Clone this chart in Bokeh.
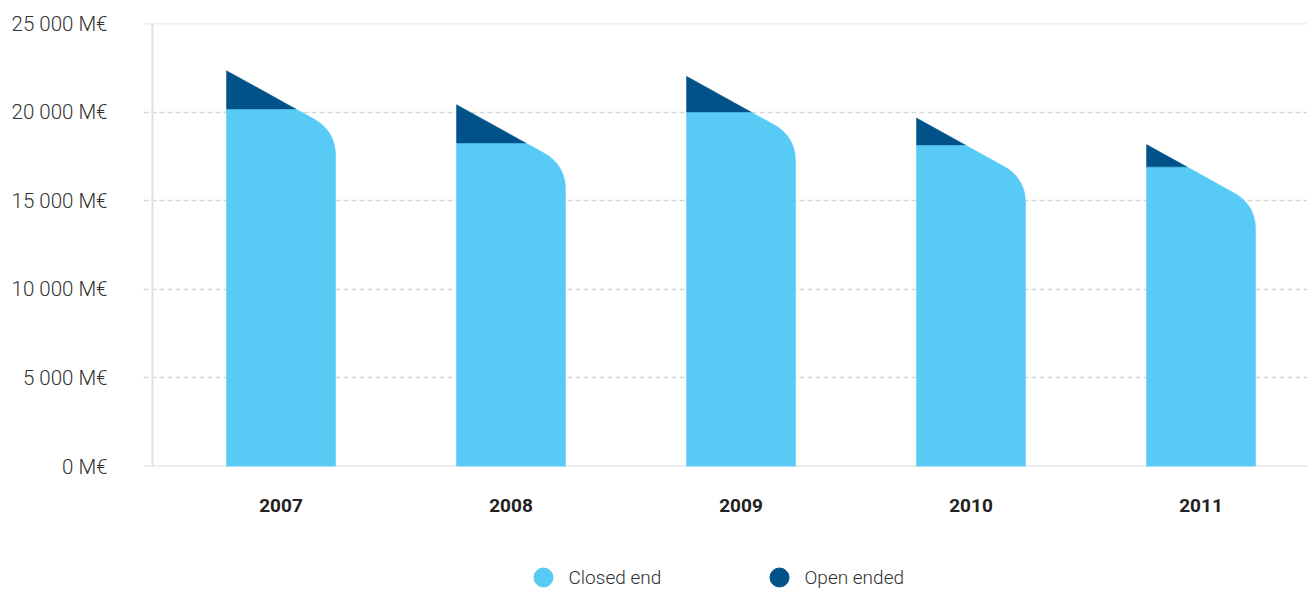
from bokeh.plotting import figure
from bokeh.layouts import column
from bokeh.models import Range1d, FixedTicker, Span
from bokeh.core.properties import value
from bokeh.embed import file_html
from bokeh.resources import INLINE

# ---- data ----
years = ["2007", "2008", "2009", "2010", "2011"]
closed_end = [20180, 18260, 20010, 18150, 16910]
open_ended = [2160, 2160, 2010, 1520, 1260]
y_ticks = [0, 5000, 10000, 15000, 20000, 25000]
series_names = ["Closed end", "Open ended"]

LIGHT = "#57CBF5"
DARK = "#005288"
series_colors = [LIGHT, DARK]

# ---- geometry (pixels) ----
W = 1307
MAIN_H, LEG_H = 545, 45
FL, FR, FT, FB = 143, 1307, 23, 466
CAT_PX = 230.0
FIRST_CENTER = 137.5          # from frame left
BAR_PX = 109.0
SLOPE = 0.553                 # px down per px right
CORNER = 25.0                 # tangent length of rounded corner, px
YMAX = 25000
PX_Y = (FB - FT) / YMAX       # px per data unit

p = figure(width=W, height=MAIN_H, output_backend="svg", toolbar_location=None,
           x_range=Range1d(-FIRST_CENTER / CAT_PX, (FR - FL - FIRST_CENTER) / CAT_PX),
           y_range=Range1d(0, YMAX),
           min_border_left=FL, min_border_right=0, min_border_top=FT,
           min_border_bottom=MAIN_H - FB)
p.outline_line_color = None
p.background_fill_color = "white"
p.border_fill_color = "white"

def to_data(i, total, pts):
    left = i - (BAR_PX / 2) / CAT_PX
    xs = [left + dx / CAT_PX for dx, dy in pts]
    ys = [max(total - dy / PX_Y, 0) if dy is not None else 0 for dx, dy in pts]
    return xs, ys

light_xs, light_ys, dark_xs, dark_ys = [], [], [], []
for i, (c, o) in enumerate(zip(closed_end, open_ended)):
    total = c + o
    drop = o * PX_Y
    xm = drop / SLOPE
    dx_, dy_ = to_data(i, total, [(0, 0), (xm, drop), (0, drop)])
    dark_xs.append(dx_); dark_ys.append(dy_)
    norm = (1 + SLOPE ** 2) ** 0.5
    cx, cy = BAR_PX, BAR_PX * SLOPE
    ax, ay = cx - CORNER / norm, cy - CORNER * SLOPE / norm
    bx, by = cx, cy + CORNER
    pts = [(0, drop), (xm, drop), (ax, ay)]
    n = 24
    for k in range(1, n):
        t = k / n
        px = (1 - t) ** 2 * ax + 2 * (1 - t) * t * cx + t ** 2 * bx
        py = (1 - t) ** 2 * ay + 2 * (1 - t) * t * cy + t ** 2 * by
        pts.append((px, py))
    pts += [(bx, by), (BAR_PX, None), (0, None)]
    lx, ly = to_data(i, total, pts)
    light_xs.append(lx); light_ys.append(ly)

p.patches(light_xs, light_ys, fill_color=LIGHT, line_color=LIGHT, line_width=0.5)
p.patches(dark_xs, dark_ys, fill_color=DARK, line_color=DARK, line_width=0.5)

# frame lines
p.add_layout(Span(location=0, dimension="width", line_color="#dddddd", line_width=2, level="underlay"))
p.add_layout(Span(location=YMAX, dimension="width", line_color="#dddddd", line_width=1.5, level="underlay"))
p.add_layout(Span(location=(152 - FL - FIRST_CENTER) / CAT_PX, dimension="height",
                  line_color="#e2e2e2", line_width=2, level="underlay"))

# grid
p.xgrid.grid_line_color = None
p.ygrid.ticker = FixedTicker(ticks=y_ticks[1:-1])
p.ygrid.grid_line_color = "#d6d6d6"
p.ygrid.grid_line_width = 1.3
p.ygrid.grid_line_dash = "5 3"

# axes
ya = p.yaxis[0]
ya.ticker = FixedTicker(ticks=y_ticks)
ya.major_label_overrides = {v: f"{v:,}".replace(",", " ") + " M€" for v in y_ticks}
ya.axis_line_color = None
ya.major_tick_line_color = None
ya.minor_tick_line_color = None
ya.major_label_standoff = 30
ya.major_label_text_font = "Roboto Light"
ya.major_label_text_font_size = "20.5px"
ya.major_label_text_color = "#333333"

xa = p.xaxis[0]
xa.ticker = FixedTicker(ticks=list(range(len(years))))
xa.major_label_overrides = {i: y for i, y in enumerate(years)}
xa.axis_line_color = None
xa.major_tick_line_color = None
xa.minor_tick_line_color = None
xa.major_label_standoff = 26
xa.major_label_text_font = "Roboto"
xa.major_label_text_font_style = "bold"
xa.major_label_text_font_size = "19px"
xa.major_label_text_color = "#222222"

# ---- legend strip (frame aligned with the main frame: page px in x) ----
LEG_X0, LEG_STEP, LEG_Y, LEG_GAP = 543, 236, 32, 25
lg = figure(width=W, height=LEG_H, output_backend="svg", toolbar_location=None,
            x_range=Range1d(FL, FR), y_range=Range1d(LEG_H, 0),
            x_axis_type=None, y_axis_type=None,
            min_border_left=FL, min_border_right=0, min_border_top=0, min_border_bottom=0)
lg.outline_line_color = None
lg.xgrid.grid_line_color = None
lg.ygrid.grid_line_color = None
lx = [LEG_X0 + k * LEG_STEP for k in range(len(series_names))]
lg.scatter(lx, [LEG_Y] * len(lx), marker="circle", size=19,
           fill_color=series_colors, line_color=series_colors)
lg.text([x + LEG_GAP for x in lx], [LEG_Y] * len(lx), text=series_names,
        text_baseline="middle", text_align="left",
        text_font=value("Roboto Light"), text_font_size="19px", text_color="#333333")

layout = column(p, lg, spacing=0)
open("out.html", "w").write(file_html(layout, INLINE))
